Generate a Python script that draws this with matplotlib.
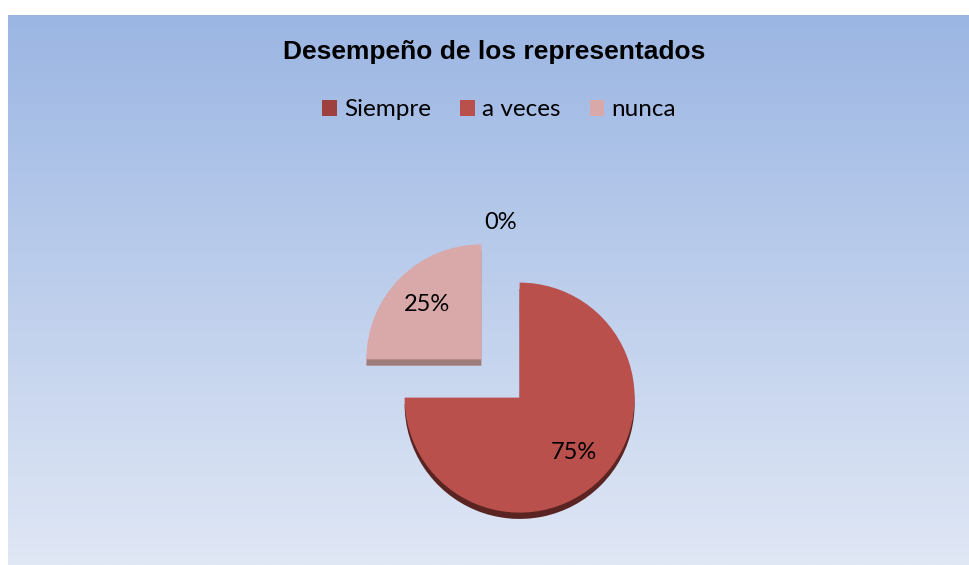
import numpy as np
import matplotlib
matplotlib.use("Agg")
import matplotlib.pyplot as plt
from matplotlib.patches import Wedge, Patch
from matplotlib.colors import LinearSegmentedColormap

# data
title = "Desempeño de los representados"
categories = ["Siempre", "a veces", "nunca"]
values = [0, 75, 25]
colors = ["#9E413E", "#BA504C", "#D8A9A8"]
side_colors = ["#5A2422", "#5A2422", "#A07D7B"]

W, H = 969, 565
fig = plt.figure(figsize=(W / 100, H / 100), dpi=100)
fig.patch.set_facecolor("white")

# gradient background of the chart area
ax_bg = fig.add_axes([8 / W, 0, 1 - 8 / W, 1 - 15 / H])
grad = np.linspace(0, 1, 256).reshape(-1, 1)
cmap = LinearSegmentedColormap.from_list("bg", ["#9BB6E3", "#E0E7F5"])
ax_bg.imshow(grad, aspect="auto", cmap=cmap, extent=[0, 1, 0, 1], origin="upper")
ax_bg.axis("off")

# pie axes covering the whole figure, 1 unit = R px
R = 115.0
cx, cy = 500.5, H - 378.5
ax = fig.add_axes([0, 0, 1, 1])
ax.patch.set_alpha(0)

wedges, texts, autotexts = ax.pie(
    values, colors=colors, startangle=90, counterclock=False,
    explode=[0.235] * 3, pctdistance=0.67, autopct="%1.0f%%",
    wedgeprops=dict(linewidth=0), textprops=dict(fontsize=17, family="Lato"),
    normalize=True, frame=True)
ax.set_xlim(-cx / R, (W - cx) / R)
ax.set_ylim(-cy / R, (H - cy) / R)
ax.set_aspect("auto")
ax.axis("off")

# thin 3D side under each slice
depth = 0.055
for w, v, sc in zip(wedges, values, side_colors):
    if v == 0:
        continue
    w.set_zorder(3)
    side = Wedge((w.center[0], w.center[1] - depth), w.r, w.theta1, w.theta2,
                 facecolor=sc, linewidth=0, zorder=2)
    ax.add_patch(side)

for t, v in zip(autotexts, values):
    t.set_zorder(5)
    if v == 0:
        t.set_position((0, 1.36))
for t in texts:
    t.set_visible(False)

fig.text(494 / W, 1 - 52 / H, title, ha="center", va="center",
         fontsize=19, fontweight="bold", family="Liberation Sans")

handles = [Patch(facecolor=c, edgecolor="none") for c in colors]
fig.legend(handles, categories, loc="center", bbox_to_anchor=(499 / W, 1 - 110 / H),
           ncol=3, frameon=False, prop=dict(family="Lato", size=17.5),
           handlelength=0.6, handleheight=0.6, handletextpad=0.3, columnspacing=1.2)

fig.savefig("out.png", dpi=100)
